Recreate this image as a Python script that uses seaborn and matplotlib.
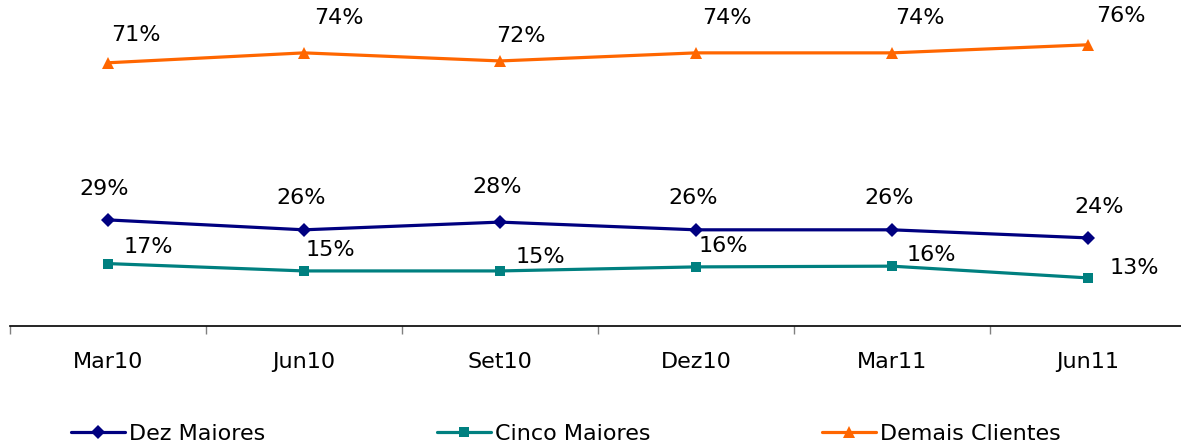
import matplotlib
matplotlib.use("Agg")
import matplotlib.pyplot as plt
import seaborn as sns
import pandas as pd

# data
periods = ["Mar10", "Jun10", "Set10", "Dez10", "Mar11", "Jun11"]
dez_maiores = [28.9, 26.2, 28.3, 26.2, 26.2, 24.0]
cinco_maiores = [17.0, 15.0, 15.0, 16.1, 16.3, 13.1]
demais_clientes = [71.7, 74.4, 72.2, 74.4, 74.4, 76.6]
dez_labels = ["29%", "26%", "28%", "26%", "26%", "24%"]
cinco_labels = ["17%", "15%", "15%", "16%", "16%", "13%"]
demais_labels = ["71%", "74%", "72%", "74%", "74%", "76%"]

series = {
    "Dez Maiores": (dez_maiores, dez_labels),
    "Cinco Maiores": (cinco_maiores, cinco_labels),
    "Demais Clientes": (demais_clientes, demais_labels),
}
colors = {"Dez Maiores": "#000080", "Cinco Maiores": "#008080", "Demais Clientes": "#FF6600"}
markers = {"Dez Maiores": "D", "Cinco Maiores": "s", "Demais Clientes": "^"}
msizes = {"Dez Maiores": 7, "Cinco Maiores": 7, "Demais Clientes": 9}

# label offsets in points (dx, dy) relative to each point
offsets = {
    "Dez Maiores": [(-3, 22), (-2, 23), (-2, 25), (-2, 23), (-2, 23), (8, 22)],
    "Cinco Maiores": [(29, 12), (19, 15), (29, 10), (20, 15), (28, 8), (33, 7)],
    "Demais Clientes": [(20, 20), (25, 25), (15, 18), (22, 25), (20, 25), (24, 21)],
}

rows = []
for name, (vals, _) in series.items():
    for i, v in enumerate(vals):
        rows.append({"x": i, "valor": v, "serie": name})
df = pd.DataFrame(rows)

sns.set_theme(style="white", rc={"text.color": "#000000", "axes.labelcolor": "#000000"})
plt.rcParams["font.family"] = ["Verdana", "DejaVu Sans"]

fig = plt.figure(figsize=(11.81, 4.46), dpi=100)
ax = fig.add_axes([10 / 1181, 1 - 326 / 446, 1176 / 1181, 326 / 446])

sns.lineplot(data=df, x="x", y="valor", hue="serie", style="serie",
             palette=colors, markers=markers, dashes=False, linewidth=2.3,
             markersize=9, markeredgewidth=0, ax=ax, legend=False)
for line, name in zip(ax.lines, series.keys()):
    line.set_markersize(msizes[name])

for name, (vals, labs) in series.items():
    for i, (v, lab) in enumerate(zip(vals, labs)):
        dx, dy = offsets[name][i]
        ax.annotate(lab, xy=(i, v), xytext=(dx, dy), textcoords="offset points",
                    ha="center", va="center", fontsize=16, color="#000000")

ax.set_xlim(-0.5, 5.5)
ax.set_ylim(0, 88.8)
ax.set_xticks(range(len(periods)))
ax.set_xticklabels(periods, fontsize=16, color="#000000")
ax.set_xticks([i - 0.5 for i in range(len(periods) + 1)], minor=True)
ax.tick_params(axis="x", which="major", length=0, pad=19)
ax.tick_params(axis="x", which="minor", length=6, width=1, color="#808080", direction="out", bottom=True)
ax.set_yticks([])
ax.set_xlabel("")
ax.set_ylabel("")
for s in ["top", "right", "left"]:
    ax.spines[s].set_visible(False)
ax.spines["bottom"].set_color("#000000")
ax.spines["bottom"].set_linewidth(1.2)
ax.set_facecolor("white")

handles = [plt.Line2D([], [], color=colors[n], marker=markers[n], markersize=msizes[n],
                      markeredgewidth=0, linewidth=2.3) for n in series]
fig.legend(handles, list(series.keys()), loc="lower left", bbox_to_anchor=(0.043, -0.04),
           ncol=3, frameon=False, fontsize=16, handlelength=2.45, handletextpad=0.18,
           columnspacing=7.7, labelcolor="#000000")

fig.savefig("out.png", dpi=100, facecolor="white")
